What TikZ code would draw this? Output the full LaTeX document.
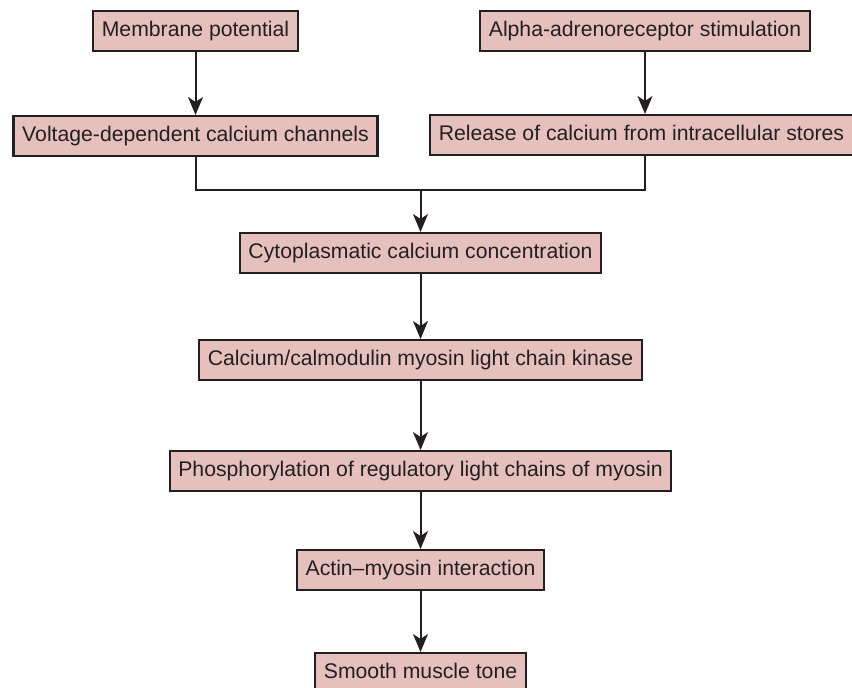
\documentclass[tikz,border=0pt]{standalone}
\usepackage{fontspec}
\setmainfont{Liberation Sans}
\usetikzlibrary{arrows.meta}
\definecolor{boxfill}{RGB}{230,192,189}
\definecolor{inkline}{RGB}{35,31,32}
\tikzset{
  flowbox/.style={
    draw=inkline, fill=boxfill, line width=1.2pt, rectangle,
    minimum height=19.8pt, inner xsep=4.3pt, inner ysep=0pt,
    text height=7.8pt, text depth=2.2pt, text=inkline,
    font=\fontsize{10.6}{12}\selectfont
  },
  leadsto/.style={-{Stealth[length=9pt, width=7.5pt, inset=2.5pt]}, line width=1pt, draw=inkline},
  joinline/.style={line width=1pt, draw=inkline}
}
\newcommand{\flownode}[4]{%
  \node[flowbox] (#1) at (#3,#4) {#2};%
}

\begin{document}
\begin{tikzpicture}[x=0.5pt, y=-0.5pt]
    \useasboundingbox (0,0) rectangle (852,688);
    \flownode{Membrane}{Membrane potential}{195.5}{31}
    \flownode{Alpha}{Alpha-adrenoreceptor stimulation}{645}{31}
    \flownode{Voltage}{Voltage-dependent calcium channels}{195.5}{136}
    \flownode{Release}{Release of calcium from intracellular stores}{641.5}{135}
    \flownode{Cyto}{Cytoplasmatic calcium concentration}{420.5}{253}
    \flownode{Kinase}{Calcium/calmodulin myosin light chain kinase}{420.5}{360}
    \flownode{Phospho}{Phosphorylation of regulatory light chains of myosin}{420.5}{471}
    \flownode{Actin}{Actin--myosin interaction}{420.5}{570}
    \flownode{Tone}{Smooth muscle tone}{420.5}{673}
    \coordinate (merge) at (420.5,190);
    \draw[leadsto] (Membrane) -- (Voltage);
    \draw[leadsto] (Alpha) -- (Alpha |- Release.north);
    \draw[joinline] (Voltage) |- (merge);
    \draw[joinline] (Alpha |- Release.south) |- (merge);
    \draw[leadsto] (merge) -- (Cyto);
    \draw[leadsto] (Cyto) -- (Kinase);
    \draw[leadsto] (Kinase) -- (Phospho);
    \draw[leadsto] (Phospho) -- (Actin);
    \draw[leadsto] (Actin) -- (Tone);
\end{tikzpicture}
\end{document}
